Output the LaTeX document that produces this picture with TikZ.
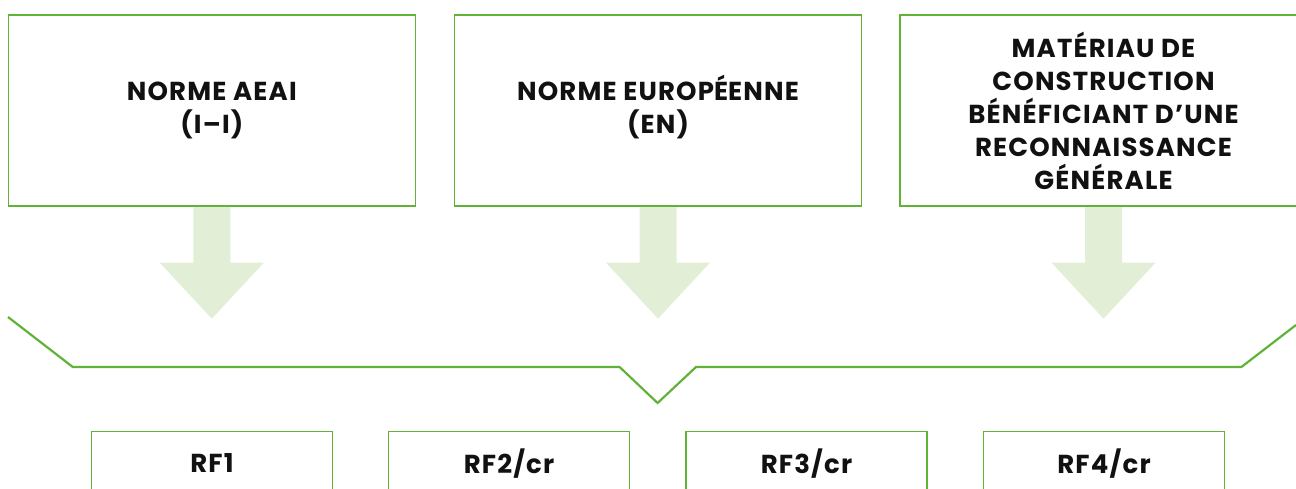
\documentclass[tikz,border=0pt]{standalone}
\usepackage{fontspec}
\setmainfont{Poppins}[LetterSpace=4.5]
\definecolor{boxgreen}{HTML}{62B23A}
\definecolor{arrowgreen}{HTML}{E2EFD6}
\definecolor{txt}{HTML}{111111}
\begin{document}
\begin{tikzpicture}[x=1pt,y=-1pt,
  topbox/.style={draw=boxgreen,line width=1.2pt,fill=white,minimum width=407pt,minimum height=191pt,
    align=center,text=txt,font=\fontsize{26}{33}\selectfont\bfseries,inner sep=0pt},
  rfbox/.style={draw=boxgreen,line width=1.2pt,minimum width=241pt,minimum height=64pt,
    text=txt,font=\fontsize{26}{33}\selectfont\bfseries,inner sep=0pt},
  bigarrow/.style={fill=arrowgreen,draw=none},
  bracket/.style={draw=boxgreen,line width=2.2pt,line join=miter}]
\useasboundingbox (0,0) rectangle (1296,489);
\node[topbox] (b1) at (211.8,110.5) {NORME AEAI\\(I–I)};
\node[topbox] (b2) at (658,110.5) {NORME EUROP\smash{É}ENNE\\(EN)};
\node[topbox] (b3) at (1103.5,110.5) {MATÉRIAU DE\\CONSTRUCTION\\BÉNÉFICIANT D’UNE\\RECONNAISSANCE\\GÉNÉRALE};
\foreach \b in {b1,b2,b3}{
  \fill[bigarrow] ([xshift=-18.5pt,yshift=-0.6pt]\b.south) -- ++(0,55.5) -- ++(-33.5,0) -- ++(52,56) -- ++(52,-56) -- ++(-33.5,0) -- ++(0,-55.5) -- cycle;
}
\coordinate (l0) at (8,317);
\coordinate (l1) at (72.8,367);
\coordinate (l2) at (619.6,367);
\coordinate (v) at (657.6,403);
\coordinate (r2) at (696,367);
\coordinate (r1) at (1241.4,367);
\coordinate (r0) at (1296,325);
\draw[bracket] (l0) -- (l1) -- (l2) -- (v) -- (r2) -- (r1) -- (r0);
\node[rfbox] (rf1) at (212,463.5) {RF1};
\node[rfbox] (rf2) at (509,463.5) {RF2/cr};
\node[rfbox] (rf3) at (806.5,463.5) {RF3/cr};
\node[rfbox] (rf4) at (1104,463.5) {RF4/cr};
\end{tikzpicture}
\end{document}
